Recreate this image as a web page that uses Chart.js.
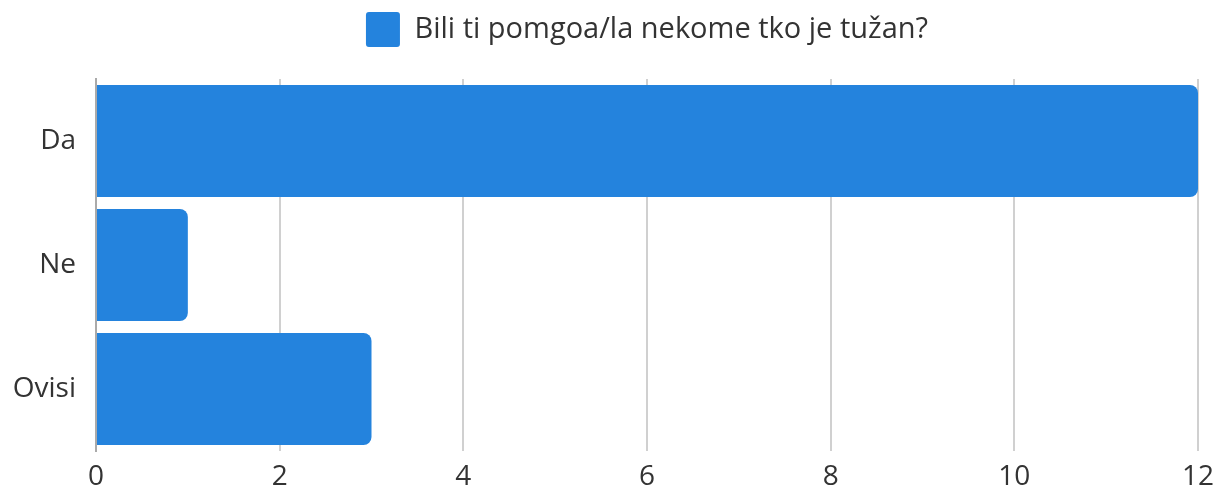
<!DOCTYPE html>
<html lang="hr">
<head>
    <meta charset="UTF-8">
    <title>Bili ti pomgoa/la nekome tko je tužan?</title>
    <style>
        html, body {
            margin: 0;
            padding: 0;
            background: #fff;
        }
        #chart-container {
            width: 1219px;
            height: 488px;
        }
    </style>
    <script src="https://cdn.jsdelivr.net/npm/chart.js"></script>
</head>
<body>
    <div id="chart-container">
        <canvas id="survey-chart"></canvas>
    </div>
    <script>
        const seriesLabel = 'Bili ti pomgoa/la nekome tko je tužan?';
        const categories = ['Da', 'Ne', 'Ovisi'];
        const answerCounts = [12, 1, 3];
        const xTicks = [0, 2, 4, 6, 8, 10, 12];

        // extra space between legend and plot
        const legendGap = {
            id: 'legendGap',
            beforeInit(chart) {
                const origFit = chart.legend.fit;
                chart.legend.fit = function () {
                    origFit.bind(chart.legend)();
                    this.height += 22;
                };
            }
        };

        const ctx = document.getElementById('survey-chart').getContext('2d');
        const chart = new Chart(ctx, {
            type: 'bar',
            data: {
                labels: categories,
                datasets: [{
                    label: seriesLabel,
                    data: answerCounts,
                    backgroundColor: '#2483dd',
                    borderWidth: 0,
                    borderRadius: 8,
                    barPercentage: 0.905,
                    categoryPercentage: 1.0
                }]
            },
            plugins: [legendGap],
            options: {
                indexAxis: 'y',
                responsive: true,
                maintainAspectRatio: false,
                animation: false,
                layout: {
                    padding: { left: 12, right: 0, top: 0, bottom: 2 }
                },
                plugins: {
                    legend: {
                        display: true,
                        position: 'top',
                        fullSize: false,
                        labels: {
                            color: '#333',
                            boxWidth: 34,
                            boxHeight: 35,
                            padding: 12,
                            useBorderRadius: true,
                            borderRadius: 3,
                            font: { family: 'Open Sans', size: 29 }
                        }
                    },
                    tooltip: { enabled: false }
                },
                scales: {
                    x: {
                        min: 0,
                        max: 12,
                        afterBuildTicks: (axis) => {
                            axis.ticks = xTicks.map(v => ({ value: v }));
                        },
                        afterFit: (axis) => {
                            axis.height = 35;
                            axis.paddingRight = 21;
                        },
                        grid: {
                            color: '#d0d0d0',
                            lineWidth: 2,
                            drawTicks: false
                        },
                        border: { display: false },
                        ticks: {
                            color: '#333',
                            padding: 9,
                            font: { family: 'Open Sans', size: 28 }
                        }
                    },
                    y: {
                        afterFit: (axis) => {
                            axis.width = 84;
                        },
                        grid: { display: false, drawTicks: false },
                        border: { display: true, color: '#aaa', width: 2 },
                        ticks: {
                            color: '#333',
                            padding: 20,
                            font: { family: 'Open Sans', size: 28 }
                        }
                    }
                }
            }
        });
    </script>
</body>
</html>
